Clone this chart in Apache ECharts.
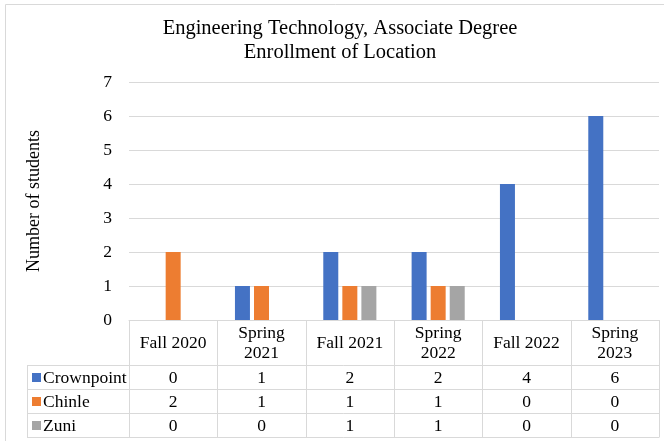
<!DOCTYPE html>
<html>
<head>
<meta charset="utf-8">
<script src="https://cdn.jsdelivr.net/npm/echarts@6/dist/echarts.min.js"></script>
<style>
  html, body { margin: 0; padding: 0; background: #fff; }
  #chart { width: 664px; height: 441px; }
</style>
</head>
<body>
<div id="chart"></div>
<script>
// 数据
let terms = ['Fall 2020', 'Spring 2021', 'Fall 2021', 'Spring 2022', 'Fall 2022', 'Spring 2023'];
let seriesNames = ['Crownpoint', 'Chinle', 'Zuni'];
let crownpoint = [0, 1, 2, 2, 4, 6];
let chinle = [2, 1, 1, 1, 0, 0];
let zuni = [0, 0, 1, 1, 0, 0];
let yTicks = [0, 1, 2, 3, 4, 5, 6, 7];

let colors = ['#4472C4', '#ED7D31', '#A5A5A5'];
let font = '"Liberation Serif", "Times New Roman", serif';
let lineColor = '#d9d9d9';
let fs = 17.5;

let chart = echarts.init(document.getElementById('chart'));

let option = {
    animation: false,
    textStyle: { fontFamily: font },
    title: {
        text: 'Engineering Technology, Associate Degree\nEnrollment of Location',
        left: 335,
        textAlign: 'center',
        top: 12,
        textStyle: { fontFamily: font, fontWeight: 'normal', fontSize: 20.5, color: '#000', lineHeight: 24 }
    },
    grid: { left: 129, right: 5, top: 82, bottom: 121 },
    xAxis: {
        type: 'category',
        data: terms,
        axisLine: { lineStyle: { color: lineColor } },
        axisTick: { show: false },
        axisLabel: {
            interval: 0,
            margin: 23,
            verticalAlign: 'middle',
            lineHeight: 20,
            fontFamily: font,
            fontSize: fs,
            color: '#000',
            formatter: function (v) { return v.replace('Spring ', 'Spring\n'); }
        }
    },
    yAxis: {
        type: 'value',
        min: yTicks[0],
        max: yTicks[yTicks.length - 1],
        interval: 1,
        name: 'Number of students',
        nameLocation: 'middle',
        nameGap: 86,
        nameTextStyle: { fontFamily: font, fontSize: 18, color: '#000' },
        axisLine: { show: false },
        axisTick: { show: false },
        axisLabel: { fontFamily: font, fontSize: fs, color: '#000', margin: 17 },
        splitLine: { lineStyle: { color: lineColor } }
    },
    series: [crownpoint, chinle, zuni].map(function (d, i) {
        return {
            name: seriesNames[i],
            type: 'bar',
            data: d,
            barWidth: 15,
            barGap: '27%',
            itemStyle: { color: colors[i] }
        };
    })
};
chart.setOption(option);

// 数据表（图表下方）
function buildTable() {
    let rows = [crownpoint, chinle, zuni];
    let top = 320, headH = 45, rowH = 24;
    let left = 27, x0 = 129, x1 = 659;
    let step = chart.convertToPixel({ xAxisIndex: 0 }, 1) - chart.convertToPixel({ xAxisIndex: 0 }, 0);
    let els = [];
    // 外框
    els.push({ type: 'rect', shape: { x: 5.5, y: 4.5, width: 700, height: 500 },
        style: { fill: null, stroke: lineColor, lineWidth: 1 }, silent: true, z: -10 });
    // 竖线
    for (let i = 0; i <= terms.length; i++) {
        let x = Math.round(x0 + i * step) + 0.5;
        els.push({ type: 'line', shape: { x1: x, y1: top, x2: x, y2: top + headH + rowH * 3 },
            style: { stroke: lineColor, lineWidth: 1 } });
    }
    els.push({ type: 'line', shape: { x1: left + 0.5, y1: top + headH, x2: left + 0.5, y2: top + headH + rowH * 3 },
        style: { stroke: lineColor, lineWidth: 1 } });
    // 横线
    for (let r = 0; r <= 3; r++) {
        let y = top + headH + r * rowH + 0.5;
        els.push({ type: 'line', shape: { x1: left, y1: y, x2: x1 + 0.5, y2: y },
            style: { stroke: lineColor, lineWidth: 1 } });
    }
    rows.forEach(function (d, r) {
        let cy = top + headH + r * rowH + rowH / 2 + 1;
        els.push({ type: 'rect', shape: { x: 32, y: cy - 5, width: 9, height: 9 }, style: { fill: colors[r] } });
        els.push({ type: 'text', x: 43, y: cy, style: { text: seriesNames[r], fontFamily: font, fontSize: fs,
            fill: '#000', verticalAlign: 'middle', align: 'left' } });
        d.forEach(function (v, i) {
            let cx = chart.convertToPixel({ xAxisIndex: 0 }, i);
            els.push({ type: 'text', x: cx, y: cy, style: { text: String(v), fontFamily: font, fontSize: fs,
                fill: '#000', verticalAlign: 'middle', align: 'center' } });
        });
    });
    chart.setOption({ graphic: els });
}
buildTable();
</script>
</body>
</html>
